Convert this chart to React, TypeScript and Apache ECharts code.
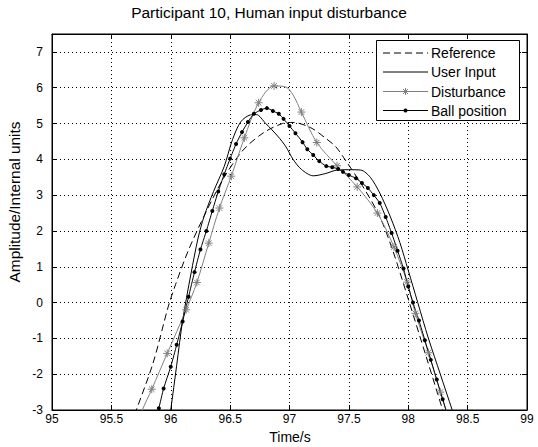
import React, { useEffect, useRef } from 'react';
import * as echarts from 'echarts';

const FONT = '"Liberation Sans", Arial, Helvetica, sans-serif';

const titleText = 'Participant 10, Human input disturbance';
const xLabelText = 'Time/s';
const yLabelText = 'Amplitude/Internal units';
const seriesNames = ['Reference', 'User Input', 'Disturbance', 'Ball position'];

const xMin = 95;
const xMax = 99;
const xStep = 0.5;
const yMin = -3;
const yMax = 7.5;
const yStep = 1;

const refT = [95.6, 95.71, 95.85, 95.98, 96.04, 96.15, 96.3, 96.45, 96.61, 96.78, 96.94, 97.03, 97.18, 97.3, 97.39, 97.47, 97.62, 97.76, 97.87, 98.0, 98.15, 98.29, 98.4];
const refY = [-4.0, -3.0, -1.7, -0.1, 0.5, 1.47, 2.55, 3.5, 4.26, 4.74, 5.0, 5.03, 4.88, 4.6, 4.35, 3.98, 3.23, 2.4, 1.45, 0.1, -1.5, -3.0, -4.2];

const userT = [95.98, 96.0, 96.05, 96.1, 96.17, 96.23, 96.28, 96.36, 96.45, 96.52, 96.59, 96.67, 96.72, 96.8, 96.9, 96.97, 97.03, 97.1, 97.2, 97.3, 97.4, 97.5, 97.6, 97.68, 97.76, 97.85, 97.93, 98.0, 98.08, 98.17, 98.27, 98.37, 98.42];
const userY = [-3.5, -3.0, -1.75, -0.5, 0.8, 1.8, 2.4, 3.1, 3.8, 4.55, 5.05, 5.24, 5.25, 5.0, 4.65, 4.35, 4.0, 3.72, 3.54, 3.6, 3.7, 3.71, 3.7, 3.5, 3.06, 2.39, 1.67, 0.9, 0.0, -1.0, -2.0, -3.0, -3.5];

const distT = [95.7, 95.76, 95.84, 95.97, 96.13, 96.22, 96.32, 96.41, 96.51, 96.62, 96.74, 96.87, 96.97, 97.03, 97.1, 97.23, 97.4, 97.57, 97.74, 97.88, 97.99, 98.06, 98.17, 98.27, 98.34];
const distY = [-3.5, -3.0, -2.42, -1.42, -0.2, 0.56, 1.66, 2.64, 3.53, 4.6, 5.58, 6.05, 6.02, 5.8, 5.32, 4.47, 3.82, 3.23, 2.5, 1.55, 0.57, -0.3, -1.4, -2.5, -3.2];
const distMarked = [0, 0, 1, 1, 1, 1, 1, 1, 1, 1, 1, 1, 0, 0, 1, 1, 1, 1, 1, 1, 1, 1, 1, 1, 0];

const ballT = [95.86, 95.9, 95.94, 96.0, 96.05, 96.1, 96.15, 96.2, 96.25, 96.3, 96.35, 96.4, 96.45, 96.5, 96.55, 96.6, 96.65, 96.7, 96.76, 96.81, 96.86, 96.91, 96.95, 97.0, 97.05, 97.11, 97.15, 97.2, 97.25, 97.31, 97.36, 97.41, 97.45, 97.5, 97.56, 97.61, 97.66, 97.71, 97.76, 97.81, 97.86, 97.91, 97.96, 98.0, 98.04, 98.09, 98.14, 98.19, 98.24, 98.29, 98.33];
const ballY = [-3.5, -2.95, -2.4, -1.79, -1.18, -0.53, 0.16, 0.85, 1.48, 2.0, 2.56, 3.1, 3.58, 4.02, 4.43, 4.76, 5.04, 5.27, 5.38, 5.43, 5.35, 5.27, 5.13, 4.93, 4.73, 4.48, 4.28, 4.12, 3.95, 3.81, 3.78, 3.73, 3.65, 3.56, 3.47, 3.34, 3.2, 3.0, 2.78, 2.39, 1.94, 1.45, 0.95, 0.45, 0.0, -0.5, -1.05, -1.6, -2.15, -2.7, -3.15];

const ASTERISK = 'path://M0,5L10,5M5,0L5,10M1.5,1.5L8.5,8.5M8.5,1.5L1.5,8.5';
const GRAY = '#808080';
const DASH = [7, 4];

const zip = (a: number[], b: number[]) => a.map((v, i) => [v, b[i]]);

function legendGraphic() {
  const box = { x: 376, y: 40, w: 143, h: 80 };
  const rowY = [53, 72, 91.5, 110.5];
  const x1 = 383;
  const x2 = 428;
  const cx = (x1 + x2) / 2;
  const els: any[] = [
    { type: 'rect', shape: { x: box.x + 0.5, y: box.y + 0.5, width: box.w, height: box.h }, style: { fill: '#fff', stroke: '#000', lineWidth: 1 }, z: 100 },
  ];
  const strokes = ['#000', '#000', GRAY, '#000'];
  seriesNames.forEach((name, i) => {
    const y = rowY[i];
    els.push({ type: 'line', shape: { x1, y1: y, x2, y2: y }, style: { stroke: strokes[i], lineWidth: 1, lineDash: i === 0 ? DASH : null }, z: 101 });
    els.push({ type: 'text', x: 431, y, style: { text: name, fontSize: 14, fontFamily: FONT, fill: '#000', align: 'left', verticalAlign: 'middle' }, z: 101 });
  });
  const ay = rowY[2];
  const r = 3.5;
  const d = 2.5;
  [[-r, 0, r, 0], [0, -r, 0, r], [-d, -d, d, d], [d, -d, -d, d]].forEach(([a, b, c, e]) => {
    els.push({ type: 'line', shape: { x1: cx + a, y1: ay + b, x2: cx + c, y2: ay + e }, style: { stroke: GRAY, lineWidth: 1 }, z: 102 });
  });
  els.push({ type: 'circle', shape: { cx, cy: rowY[3], r: 2 }, style: { fill: '#000' }, z: 102 });
  return els;
}

export default function App() {
  const ref = useRef<HTMLDivElement>(null);
  useEffect(() => {
    document.body.style.margin = '0';
    const chart = echarts.init(ref.current!, null, { renderer: 'svg' });
    const axisLine = { show: true, onZero: false, lineStyle: { color: '#000', width: 1 } };
    const axisTick = { show: true, inside: true, length: 5, lineStyle: { color: '#000', width: 1 } };
    const option: any = {
      animation: false,
      backgroundColor: '#fff',
      textStyle: { fontFamily: FONT },
      grid: { left: 52, right: 11, top: 34, bottom: 37, show: true, borderColor: '#000', borderWidth: 1, backgroundColor: '#fff' },
      xAxis: [
        {
          type: 'value', min: xMin, max: xMax, interval: xStep, position: 'bottom',
          axisLine, axisTick,
          axisLabel: { color: '#000', fontSize: 12, fontFamily: FONT, margin: 3 },
          splitLine: { show: true, lineStyle: { color: '#000', width: 1, type: [1, 3] } },
        },
        {
          type: 'value', min: xMin, max: xMax, interval: xStep, position: 'top',
          axisLine, axisTick,
          axisLabel: { show: false },
          splitLine: { show: false },
        },
      ],
      yAxis: [
        {
          type: 'value', min: yMin, max: yMax, interval: yStep, position: 'left',
          axisLine, axisTick,
          axisLabel: {
            color: '#000', fontSize: 12, fontFamily: FONT, margin: 9,
            formatter: (v: number) => (Number.isInteger(v) ? String(v) : ''),
          },
          splitLine: { show: true, lineStyle: { color: '#000', width: 1, type: [1, 3] } },
        },
        {
          type: 'value', min: yMin, max: yMax, interval: yStep, position: 'right',
          axisLine, axisTick,
          axisLabel: { show: false },
          splitLine: { show: false },
        },
      ],
      graphic: [
        { type: 'text', x: 269, y: 12, style: { text: titleText, fontSize: 15.5, fontFamily: FONT, fill: '#000', align: 'center', verticalAlign: 'middle' } },
        { type: 'text', x: 290, y: 437, style: { text: xLabelText, fontSize: 14, fontFamily: FONT, fill: '#000', align: 'center', verticalAlign: 'middle' } },
        { type: 'text', x: 14, y: 202, rotation: Math.PI / 2, style: { text: yLabelText, fontSize: 15.4, fontFamily: FONT, fill: '#000', align: 'center', verticalAlign: 'middle' } },
        ...legendGraphic(),
      ],
      series: [
        {
          name: seriesNames[0], type: 'line', data: zip(refT, refY), smooth: 0.3,
          symbol: 'none', color: '#000',
          lineStyle: { color: '#000', width: 1, type: DASH },
        },
        {
          name: seriesNames[1], type: 'line', data: zip(userT, userY), smooth: 0.3,
          symbol: 'none', color: '#000',
          lineStyle: { color: '#000', width: 1 },
        },
        {
          name: seriesNames[2], type: 'line', smooth: 0.3,
          data: distT.map((t, i) => ({ value: [t, distY[i]], symbol: distMarked[i] ? ASTERISK : 'none' })),
          symbol: ASTERISK, symbolSize: 8, showSymbol: true, color: GRAY,
          itemStyle: { color: GRAY, borderColor: GRAY, borderWidth: 1 },
          lineStyle: { color: GRAY, width: 1 },
        },
        {
          name: seriesNames[3], type: 'line', data: zip(ballT, ballY), smooth: 0.2,
          symbol: 'circle', symbolSize: 4, showSymbol: true, color: '#000',
          itemStyle: { color: '#000' },
          lineStyle: { color: '#000', width: 1 },
        },
      ],
    };
    chart.setOption(option);
    return () => chart.dispose();
  }, []);
  return <div ref={ref} style={{ width: 538, height: 447, position: 'absolute', left: 0, top: 0 }} />;
}
